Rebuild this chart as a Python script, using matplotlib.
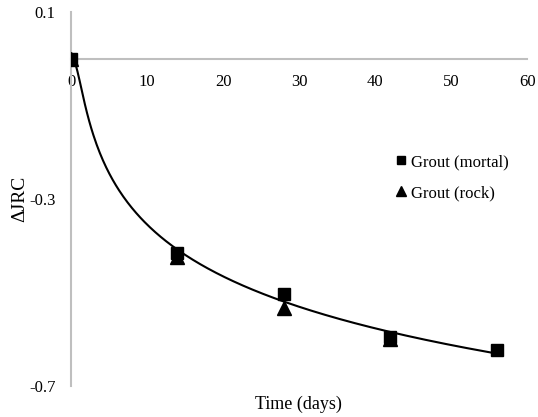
import numpy as np
import matplotlib
matplotlib.use("Agg")
import matplotlib.pyplot as plt

plt.rcParams['font.family'] = ['Liberation Serif', 'DejaVu Serif']

# data
days = [0, 14, 28, 42, 56]
mortal = [0.0, -0.415, -0.503, -0.595, -0.623]
days_rock = [0, 14, 28, 42]
rock = [0.0, -0.424, -0.533, -0.600]

# points
trend_x = [0, 0.75, 1.84, 3.16, 4.91, 7.1, 9.74, 13.25, 14.3, 27.9, 41.5, 55.6]
trend_y = [0, -0.017, -0.088, -0.167, -0.238, -0.302, -0.359, -0.405,
           -0.42, -0.516, -0.58, -0.623]

xticks = [0, 10, 20, 30, 40, 50, 60]
yticks = [-0.7, -0.3, 0.1]


def shape(x, c, p):
    x = np.asarray(x, dtype=float)
    return np.log1p((x / c) ** p)


# fit y = -a*ln(1 + (x/c)^p) to the curve readings
tx = np.array(trend_x)
ty = np.array(trend_y)
best = None
for c in np.linspace(0.2, 12, 237):
    for p in np.linspace(0.5, 2.5, 201):
        h = shape(tx, c, p)
        a = -np.dot(h, ty) / np.dot(h, h)
        err = np.sum((ty + a * h) ** 2)
        if best is None or err < best[0]:
            best = (err, a, c, p)
_, a, c, p = best

xfit = np.linspace(0, max(days), 400)
yfit = -a * shape(xfit, c, p)

fig = plt.figure(figsize=(5.38, 4.17), dpi=100)
ax = fig.add_axes([0.132, 0.074, 0.848, 0.897])

ax.plot(xfit, yfit, color='black', lw=1.5, zorder=2)
sq, = ax.plot(days, mortal, 's', color='black', ms=8.5, ls='none', zorder=3)
tr, = ax.plot(days_rock, rock, '^', color='black', ms=10, ls='none', zorder=3)

ax.set_xlim(0, 60)
ax.set_ylim(-0.7, 0.1)
ax.set_xticks(xticks)
ax.set_yticks(yticks)
ax.set_yticklabels([str(v) for v in yticks])

for s in ['top', 'right']:
    ax.spines[s].set_visible(False)
ax.spines['bottom'].set_position(('data', 0))
ax.spines['bottom'].set_color('#bfbfbf')
ax.spines['left'].set_color('#bfbfbf')
ax.spines['bottom'].set_linewidth(1.5)
ax.spines['left'].set_linewidth(1.5)
ax.tick_params(axis='x', length=0, pad=11, labelsize=12)
ax.tick_params(axis='y', length=0, pad=11, labelsize=12)

ax.set_ylabel('\u0394JRC', fontsize=14)
ax.yaxis.set_label_coords(-0.093, 0.5)
fig.text(0.555, 0.03, 'Time (days)', ha='center', va='center', fontsize=13)

ax.legend([sq, tr], ['Grout (mortal)', 'Grout (rock)'], frameon=False,
          loc='upper left', bbox_to_anchor=(0.672, 0.66), fontsize=12,
          handletextpad=0.1, labelspacing=0.9, handlelength=1.0,
          markerscale=0.75)

fig.savefig('out.png', dpi=100)
